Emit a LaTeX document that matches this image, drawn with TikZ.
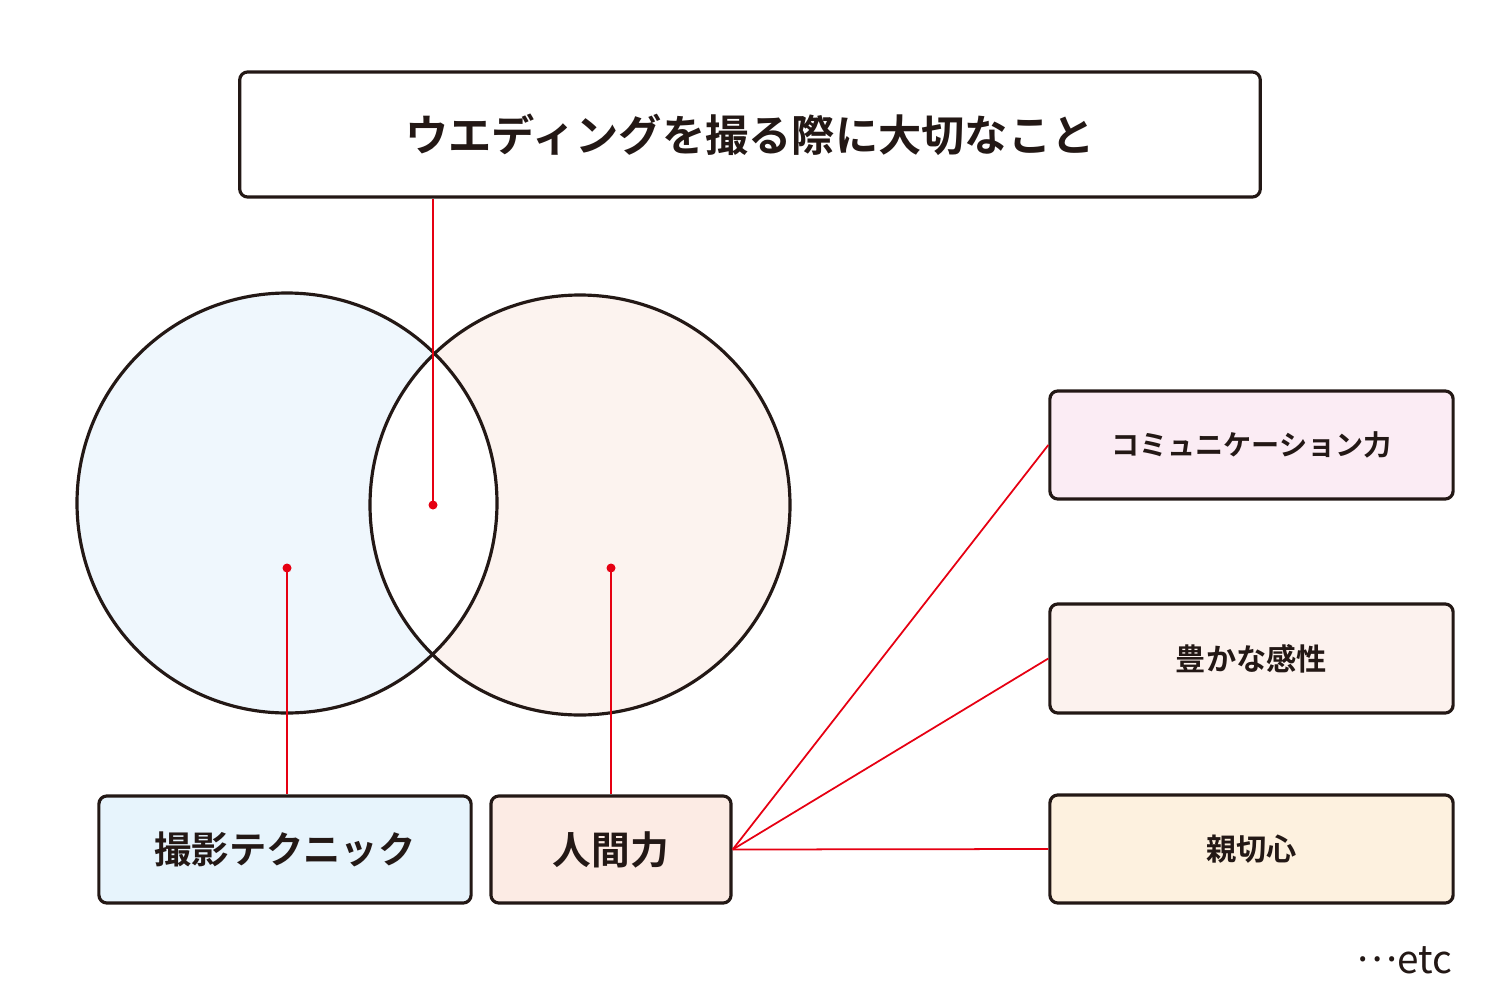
\documentclass[tikz,border=0pt]{standalone}
\usepackage{fontspec}
\newfontfamily\jp{Noto Sans CJK JP Bold}
\newfontfamily\jpreg{Noto Sans CJK JP}
\definecolor{ink}{HTML}{231815}
\definecolor{redl}{HTML}{E60012}
\definecolor{cblue}{HTML}{EFF7FD}
\definecolor{bblue}{HTML}{E7F4FC}
\definecolor{cpeach}{HTML}{FCF3EF}
\definecolor{bpeach}{HTML}{FCEBE4}
\definecolor{bpink}{HTML}{FBECF4}
\definecolor{bsand}{HTML}{FCF2EE}
\definecolor{bcream}{HTML}{FDF1DF}
\tikzset{
  box/.style={draw=ink, line width=0.9pt, rounded corners=0.08cm, inner sep=0pt, text=ink, font=\jp},
  link/.style={draw=redl, line width=0.5pt},
  dotm/.style={fill=redl},
}
\begin{document}
\begin{tikzpicture}[x=0.01cm,y=-0.01cm]
\useasboundingbox (0,0) rectangle (1500,1000);
% circles
\fill[cblue] (287,503) circle (210);
\fill[cpeach] (580,505) circle (210);
\begin{scope}
  \clip (287,503) circle (210);
  \fill[white] (580,505) circle (210);
\end{scope}
\draw[ink, line width=0.9pt] (287,503) circle (210);
\draw[ink, line width=0.9pt] (580,505) circle (210);
% boxes
\node[box, fill=white, minimum width=10.2cm, minimum height=1.25cm, font=\jp\fontsize{12.3pt}{14pt}\selectfont] (title) at (750,134.5) {ウエディングを撮る際に大切なこと};
\node[box, fill=bblue, minimum width=3.72cm, minimum height=1.07cm, font=\jp\fontsize{10.6pt}{12pt}\selectfont] (tech) at (285,849.5) {撮影テクニック};
\node[box, fill=bpeach, minimum width=2.40cm, minimum height=1.07cm, font=\jp\fontsize{11pt}{12pt}\selectfont] (ningen) at (611,849.5) {人間力};
\node[box, fill=bpink, minimum width=4.03cm, minimum height=1.08cm, font=\jp\fontsize{8pt}{10pt}\selectfont] (comm) at (1251.5,445) {コミュニケーション力};
\node[box, fill=bsand, minimum width=4.03cm, minimum height=1.09cm, font=\jp\fontsize{8.6pt}{10pt}\selectfont] (yutaka) at (1251.5,658.5) {豊かな感性};
\node[box, fill=bcream, minimum width=4.03cm, minimum height=1.08cm, font=\jp\fontsize{8.6pt}{10pt}\selectfont] (shinsetsu) at (1251.5,849) {親切心};
% dots
\coordinate (dc) at (433,505);
\coordinate (dl) at (287,568);
\coordinate (dr) at (611,568);
\draw[link] (dc) -- (dc |- title.south);
\draw[link] (dl) -- (dl |- tech.north);
\draw[link] (dr) -- (dr |- ningen.north);
\fill[dotm] (dc) circle (4.5);
\fill[dotm] (dl) circle (4.5);
\fill[dotm] (dr) circle (4.5);
\draw[link] (ningen.east) -- (comm.west);
\draw[link] (ningen.east) -- (yutaka.west);
\draw[link] (ningen.east) -- (shinsetsu.west);
% etc
\node[text=ink, font=\jpreg\fontsize{11pt}{12pt}\selectfont, anchor=base east, inner sep=0pt] (etc) at (1453,973) {\raisebox{0.3em}{…}etc};
\end{tikzpicture}
\end{document}
